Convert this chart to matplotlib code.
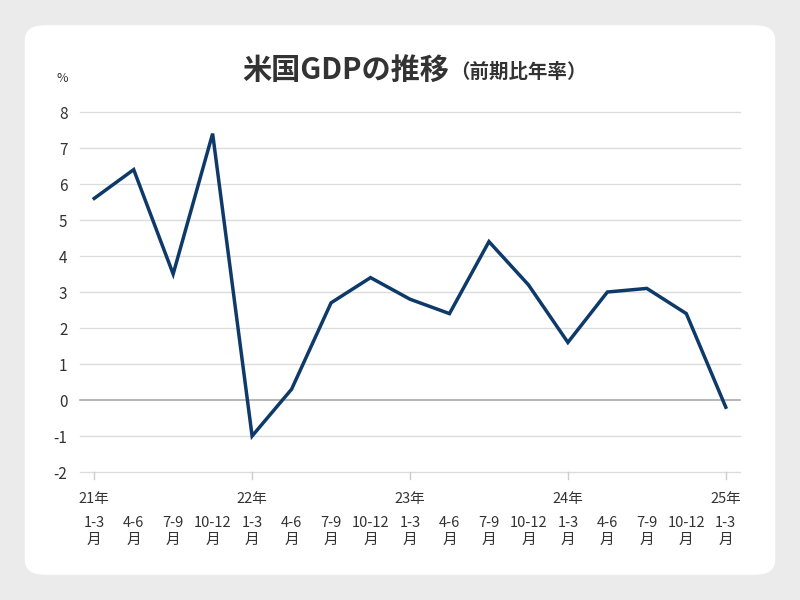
import matplotlib.pyplot as plt
from matplotlib.patches import FancyBboxPatch
from matplotlib.transforms import blended_transform_factory

plt.rcParams['font.family'] = ['Noto Sans CJK JP', 'DejaVu Sans']

# data
quarters = ['1-3\n月', '4-6\n月', '7-9\n月', '10-12\n月'] * 4 + ['1-3\n月']
years = ['21年', '22年', '23年', '24年', '25年']
gdp = [5.6, 6.4, 3.5, 7.4, -1.0, 0.3, 2.7, 3.4, 2.8, 2.4, 4.4, 3.2, 1.6, 3.0, 3.1, 2.4, -0.2]
yticks = list(range(-2, 9))

text_col = '#333333'
line_col = '#0e3a6a'

fig = plt.figure(figsize=(8, 6), dpi=100)
fig.patch.set_facecolor('#ebebeb')
card = FancyBboxPatch((0.031, 0.042), 0.938, 0.916,
                      boxstyle='round,pad=0,rounding_size=0.025',
                      transform=fig.transFigure, facecolor='white',
                      edgecolor='none', zorder=-5)
fig.patches.append(card)

ax = fig.add_axes([0.1, 0.2133, 0.825, 0.6])
ax.set_facecolor('none')
x = list(range(len(gdp)))
ax.plot(x, gdp, color=line_col, lw=2.5, zorder=3, clip_on=False,
        solid_joinstyle='miter')

ax.set_xlim(-0.36, 16.36)
ax.set_ylim(-2, 8)
for v in yticks:
    ax.axhline(v, color='#aaaaaa' if v == 0 else '#dcdcdc',
               lw=1.2 if v == 0 else 1, zorder=1, clip_on=False)

for s in ax.spines.values():
    s.set_visible(False)
ax.set_yticks(yticks)
ax.set_yticklabels([str(v) for v in yticks], fontsize=11, color=text_col)
ax.tick_params(axis='y', length=0, pad=9)

ax.set_xticks(x)
ax.set_xticklabels(quarters, fontsize=10.5, color=text_col, linespacing=1.2)
ax.tick_params(axis='x', length=0, pad=32)

# year ticks and labels
trans = blended_transform_factory(ax.transData, ax.transAxes)
for i, yl in enumerate(years):
    xi = i * 4
    ax.plot([xi, xi], [0, -0.02], color='#cccccc', lw=1,
            transform=trans, clip_on=False)
    ax.text(xi, -0.055, yl, transform=trans, ha='center', va='top',
            fontsize=10.5, color=text_col)

fig.text(0.078, 0.87, '%', fontsize=9, color=text_col, ha='center', va='center')
fig.text(0.561, 0.883, '米国GDPの推移', fontsize=21, fontweight='bold',
         color=text_col, ha='right', va='center')
fig.text(0.563, 0.880, '（前期比年率）', fontsize=14, fontweight='bold',
         color=text_col, ha='left', va='center')

fig.savefig('out.png', dpi=100, facecolor=fig.get_facecolor())
